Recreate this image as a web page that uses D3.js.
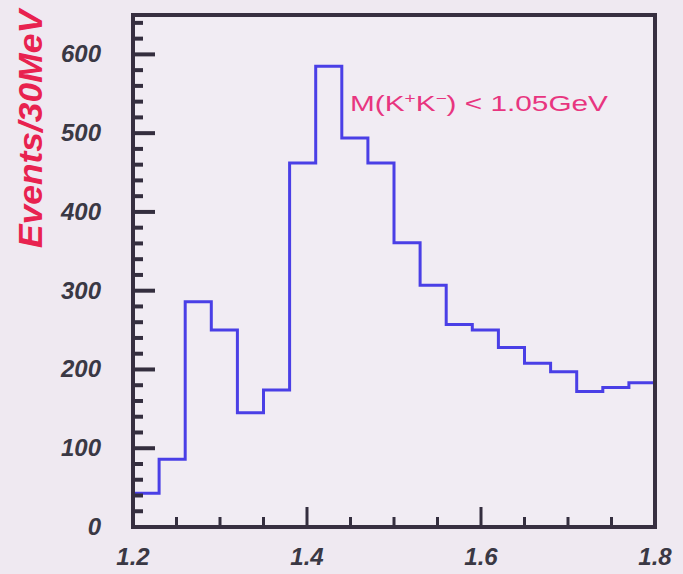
<!DOCTYPE html>
<html>
<head>
<meta charset="utf-8">
<script src="https://cdn.jsdelivr.net/npm/d3@7"></script>
<style>
  html, body { margin: 0; padding: 0; background: #efe9f1; }
  svg { display: block; }
</style>
</head>
<body>
<svg id="chart" width="683" height="574"></svg>
<script>
// Invariant mass histogram, 30 MeV bins from 1.2 to 1.8 GeV
const binStart = 1.2;
const binWidth = 0.03;
const counts = [43, 86, 286, 250, 145, 174, 462, 585, 494, 462,
                361, 307, 257, 250, 228, 208, 197, 172, 177, 183];
const xTicks = [1.2, 1.4, 1.6, 1.8];
const xTickLabels = ["1.2", "1.4", "1.6", "1.8"];
const xMinorTicks = [1.25, 1.3, 1.35, 1.45, 1.5, 1.55, 1.65, 1.7, 1.75];
const yTicks = [0, 100, 200, 300, 400, 500, 600];
const yTitle = "Events/30MeV";

const svg = d3.select("#chart");
const plotLeft = 133, plotRight = 655, plotTop = 15, plotBottom = 527;

const x = d3.scaleLinear().domain([1.2, 1.8]).range([plotLeft, plotRight]);
const y = d3.scaleLinear().domain([0, 650]).range([plotBottom, plotTop]);

const frameColor = "#372f40";
const tickColor = "#342e3e";

// plot background
svg.append("rect")
  .attr("x", plotLeft).attr("y", plotTop)
  .attr("width", plotRight - plotLeft).attr("height", plotBottom - plotTop)
  .attr("fill", "#f1ecf3");

// histogram outline
const pts = [[binStart, 0]];
counts.forEach((c, i) => {
  const x0 = binStart + i * binWidth;
  pts.push([x0, c], [x0 + binWidth, c]);
});
pts.push([binStart + counts.length * binWidth, 0]);

svg.append("path")
  .datum(pts)
  .attr("fill", "none")
  .attr("stroke", "#4a3fe6")
  .attr("stroke-width", 3)
  .attr("stroke-linejoin", "miter")
  .attr("d", d3.line().x(d => x(d[0])).y(d => y(d[1])));

// inward ticks on the y axis: major every 100, minor every 20
const yMinor = d3.range(20, 650, 20).filter(v => v % 100 !== 0);
const tickG = svg.append("g").attr("stroke", tickColor);
tickG.selectAll("line.ymaj").data(yTicks).join("line")
  .attr("class", "ymaj")
  .attr("x1", plotLeft).attr("x2", plotLeft + 22)
  .attr("y1", d => y(d)).attr("y2", d => y(d))
  .attr("stroke-width", 4);
tickG.selectAll("line.ymin").data(yMinor).join("line")
  .attr("class", "ymin")
  .attr("x1", plotLeft).attr("x2", plotLeft + 10)
  .attr("y1", d => y(d)).attr("y2", d => y(d))
  .attr("stroke-width", 4);

// inward ticks on the x axis
tickG.selectAll("line.xmaj").data(xTicks).join("line")
  .attr("class", "xmaj")
  .attr("x1", d => x(d)).attr("x2", d => x(d))
  .attr("y1", plotBottom).attr("y2", plotBottom - 20)
  .attr("stroke-width", 3);
tickG.selectAll("line.xmin").data(xMinorTicks).join("line")
  .attr("class", "xmin")
  .attr("x1", d => x(d)).attr("x2", d => x(d))
  .attr("y1", plotBottom).attr("y2", plotBottom - 10)
  .attr("stroke-width", 3);

// frame
svg.append("path")
  .attr("d", `M${plotLeft},${plotBottom}H${plotRight}V${plotTop}H${plotLeft}Z`)
  .attr("fill", "none").attr("stroke", frameColor).attr("stroke-width", 4);

// tick labels
const labelFont = "'Liberation Sans', Arial, sans-serif";
svg.append("g").selectAll("text").data(yTicks).join("text")
  .attr("x", 101).attr("y", d => y(d) + 8)
  .attr("text-anchor", "end")
  .attr("font-family", labelFont).attr("font-size", 24)
  .attr("font-weight", "bold").attr("font-style", "italic")
  .attr("fill", "#3a3844")
  .text(d => d);

svg.append("g").selectAll("text").data(xTicks).join("text")
  .attr("x", d => x(d)).attr("y", 565)
  .attr("text-anchor", "middle")
  .attr("font-family", labelFont).attr("font-size", 24)
  .attr("font-weight", "bold").attr("font-style", "italic")
  .attr("fill", "#3a3844")
  .text((d, i) => xTickLabels[i]);

// y title
svg.append("text")
  .attr("transform", "translate(42,129) rotate(-90)")
  .attr("text-anchor", "middle")
  .attr("font-family", labelFont).attr("font-size", 33)
  .attr("font-weight", "bold").attr("font-style", "italic")
  .attr("fill", "#e8224f")
  .attr("textLength", 238).attr("lengthAdjust", "spacingAndGlyphs")
  .text(yTitle);

// selection cut annotation
const note = svg.append("text")
  .attr("x", 350).attr("y", 111)
  .attr("font-family", labelFont).attr("font-size", 22)
  .attr("fill", "#e8357f")
  .attr("textLength", 258).attr("lengthAdjust", "spacingAndGlyphs");
note.append("tspan").text("M(K");
note.append("tspan").attr("font-size", 14).attr("dy", -8).text("+");
note.append("tspan").attr("dy", 8).text("K");
note.append("tspan").attr("font-size", 14).attr("dy", -8).text("\u2212");
note.append("tspan").attr("dy", 8).text(") < 1.05GeV");
</script>
</body>
</html>
